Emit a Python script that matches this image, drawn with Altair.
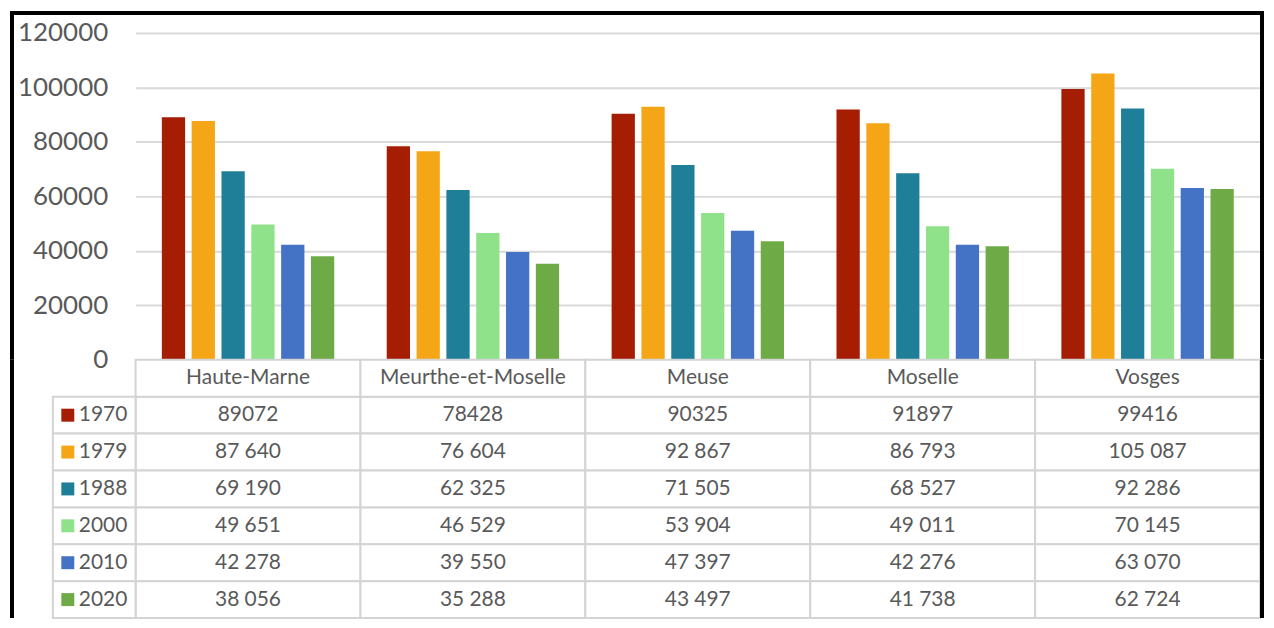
import altair as alt
import pandas as pd

# ---- data ----
departements = ["Haute-Marne", "Meurthe-et-Moselle", "Meuse", "Moselle", "Vosges"]
annees = ["1970", "1979", "1988", "2000", "2010", "2020"]
couleurs = ["#A51D02", "#F5A616", "#1F7F98", "#8FE18A", "#4472C4", "#6EAB46"]
pop_1970 = [89072, 78428, 90325, 91897, 99416]
pop_1979 = [87640, 76604, 92867, 86793, 105087]
pop_1988 = [69190, 62325, 71505, 68527, 92286]
pop_2000 = [49651, 46529, 53904, 49011, 70145]
pop_2010 = [42278, 39550, 47397, 42276, 63070]
pop_2020 = [38056, 35288, 43497, 41738, 62724]
y_ticks = [0, 20000, 40000, 60000, 80000, 100000, 120000]

series = dict(zip(annees, [pop_1970, pop_1979, pop_1988, pop_2000, pop_2010, pop_2020]))


def fmt(v, annee):
    if annee == "1970":
        return str(v)
    return f"{v:,}".replace(",", "\u202f")


records = []
for a in annees:
    for d, v in zip(departements, series[a]):
        records.append({"departement": d, "annee": a, "valeur": v,
                        "ligne": a, "texte": fmt(v, a)})
df = pd.DataFrame(records)

header = pd.DataFrame({"departement": departements, "ligne": ["en-tete"] * len(departements),
                       "texte": departements})
tab = pd.concat([df[["departement", "ligne", "texte"]], header], ignore_index=True)
leg = pd.DataFrame({"ligne": annees, "annee": annees})
one = pd.DataFrame({"k": [0]})

# ---- layout ----
W = 1128
H_TOP = 328
ROW = 37
rows_domain = ["en-tete"] + annees
H_TAB = ROW * len(rows_domain)
FONT = "Lato"
GREY = "#595959"
LINE = "#d4d4d4"
FRAME_L = -124
FRAME_R = W + 2

x_dep = alt.X("departement:N", sort=departements,
              scale=alt.Scale(domain=departements, paddingInner=0, paddingOuter=0), axis=None)
color_enc = alt.Color("annee:N", scale=alt.Scale(domain=annees, range=couleurs), legend=None)

bars = alt.Chart(df).mark_bar().encode(
    x=x_dep,
    xOffset=alt.XOffset("annee:N", sort=annees,
                        scale=alt.Scale(domain=annees, paddingInner=0.22, paddingOuter=0.88)),
    y=alt.Y("valeur:Q", scale=alt.Scale(domain=[0, 120000], nice=False),
            axis=alt.Axis(values=y_ticks, format="d", grid=True, gridColor="#d9d9d9", gridWidth=2,
                          domain=False, ticks=False, labelFontSize=26, labelFont=FONT,
                          labelColor=GREY, labelPadding=28, title=None)),
    color=color_enc,
)

frame_top = alt.Chart(one).mark_rule(color="black", strokeWidth=4).encode(
    x=alt.value(FRAME_L - 2), x2=alt.value(FRAME_R + 2), y=alt.value(-20))
frame_left_top = alt.Chart(one).mark_rule(color="black", strokeWidth=4).encode(
    x=alt.value(FRAME_L), y=alt.value(-22), y2=alt.value(H_TOP))
frame_right_top = alt.Chart(one).mark_rule(color="black", strokeWidth=4).encode(
    x=alt.value(FRAME_R), y=alt.value(-22), y2=alt.value(H_TOP))

top = alt.layer(bars, frame_top, frame_left_top, frame_right_top).properties(width=W, height=H_TOP)

y_tab = alt.Y("ligne:N", sort=rows_domain,
              scale=alt.Scale(domain=rows_domain, paddingInner=0, paddingOuter=0), axis=None)

cells = alt.Chart(tab).mark_rect(fill="white", stroke=LINE, strokeWidth=2).encode(x=x_dep, y=y_tab)
texts = alt.Chart(tab).mark_text(font=FONT, fontSize=21, color=GREY).encode(
    x=x_dep, y=y_tab, text="texte:N")
leg_cells = alt.Chart(leg).mark_rect(fill="white", stroke=LINE, strokeWidth=2).encode(
    x=alt.value(-83), x2=alt.value(0), y=y_tab)
swatches = alt.Chart(leg).mark_square(size=169, opacity=1).encode(
    x=alt.value(-68), y=y_tab, color=color_enc)
leg_text = alt.Chart(leg).mark_text(font=FONT, fontSize=21, color=GREY, align="left").encode(
    x=alt.value(-57), y=y_tab, text="annee:N")
frame_left_tab = alt.Chart(one).mark_rule(color="black", strokeWidth=4).encode(
    x=alt.value(FRAME_L), y=alt.value(0), y2=alt.value(H_TAB))
frame_right_tab = alt.Chart(one).mark_rule(color="black", strokeWidth=4).encode(
    x=alt.value(FRAME_R), y=alt.value(0), y2=alt.value(H_TAB))

table = alt.layer(cells, texts, leg_cells, swatches, leg_text,
                  frame_left_tab, frame_right_tab).properties(width=W, height=H_TAB)

chart = alt.vconcat(top, table, spacing=0, padding=0, bounds="flush").configure_view(strokeWidth=0)

chart.save("out.html", embed_options={"renderer": "svg", "actions": False})
